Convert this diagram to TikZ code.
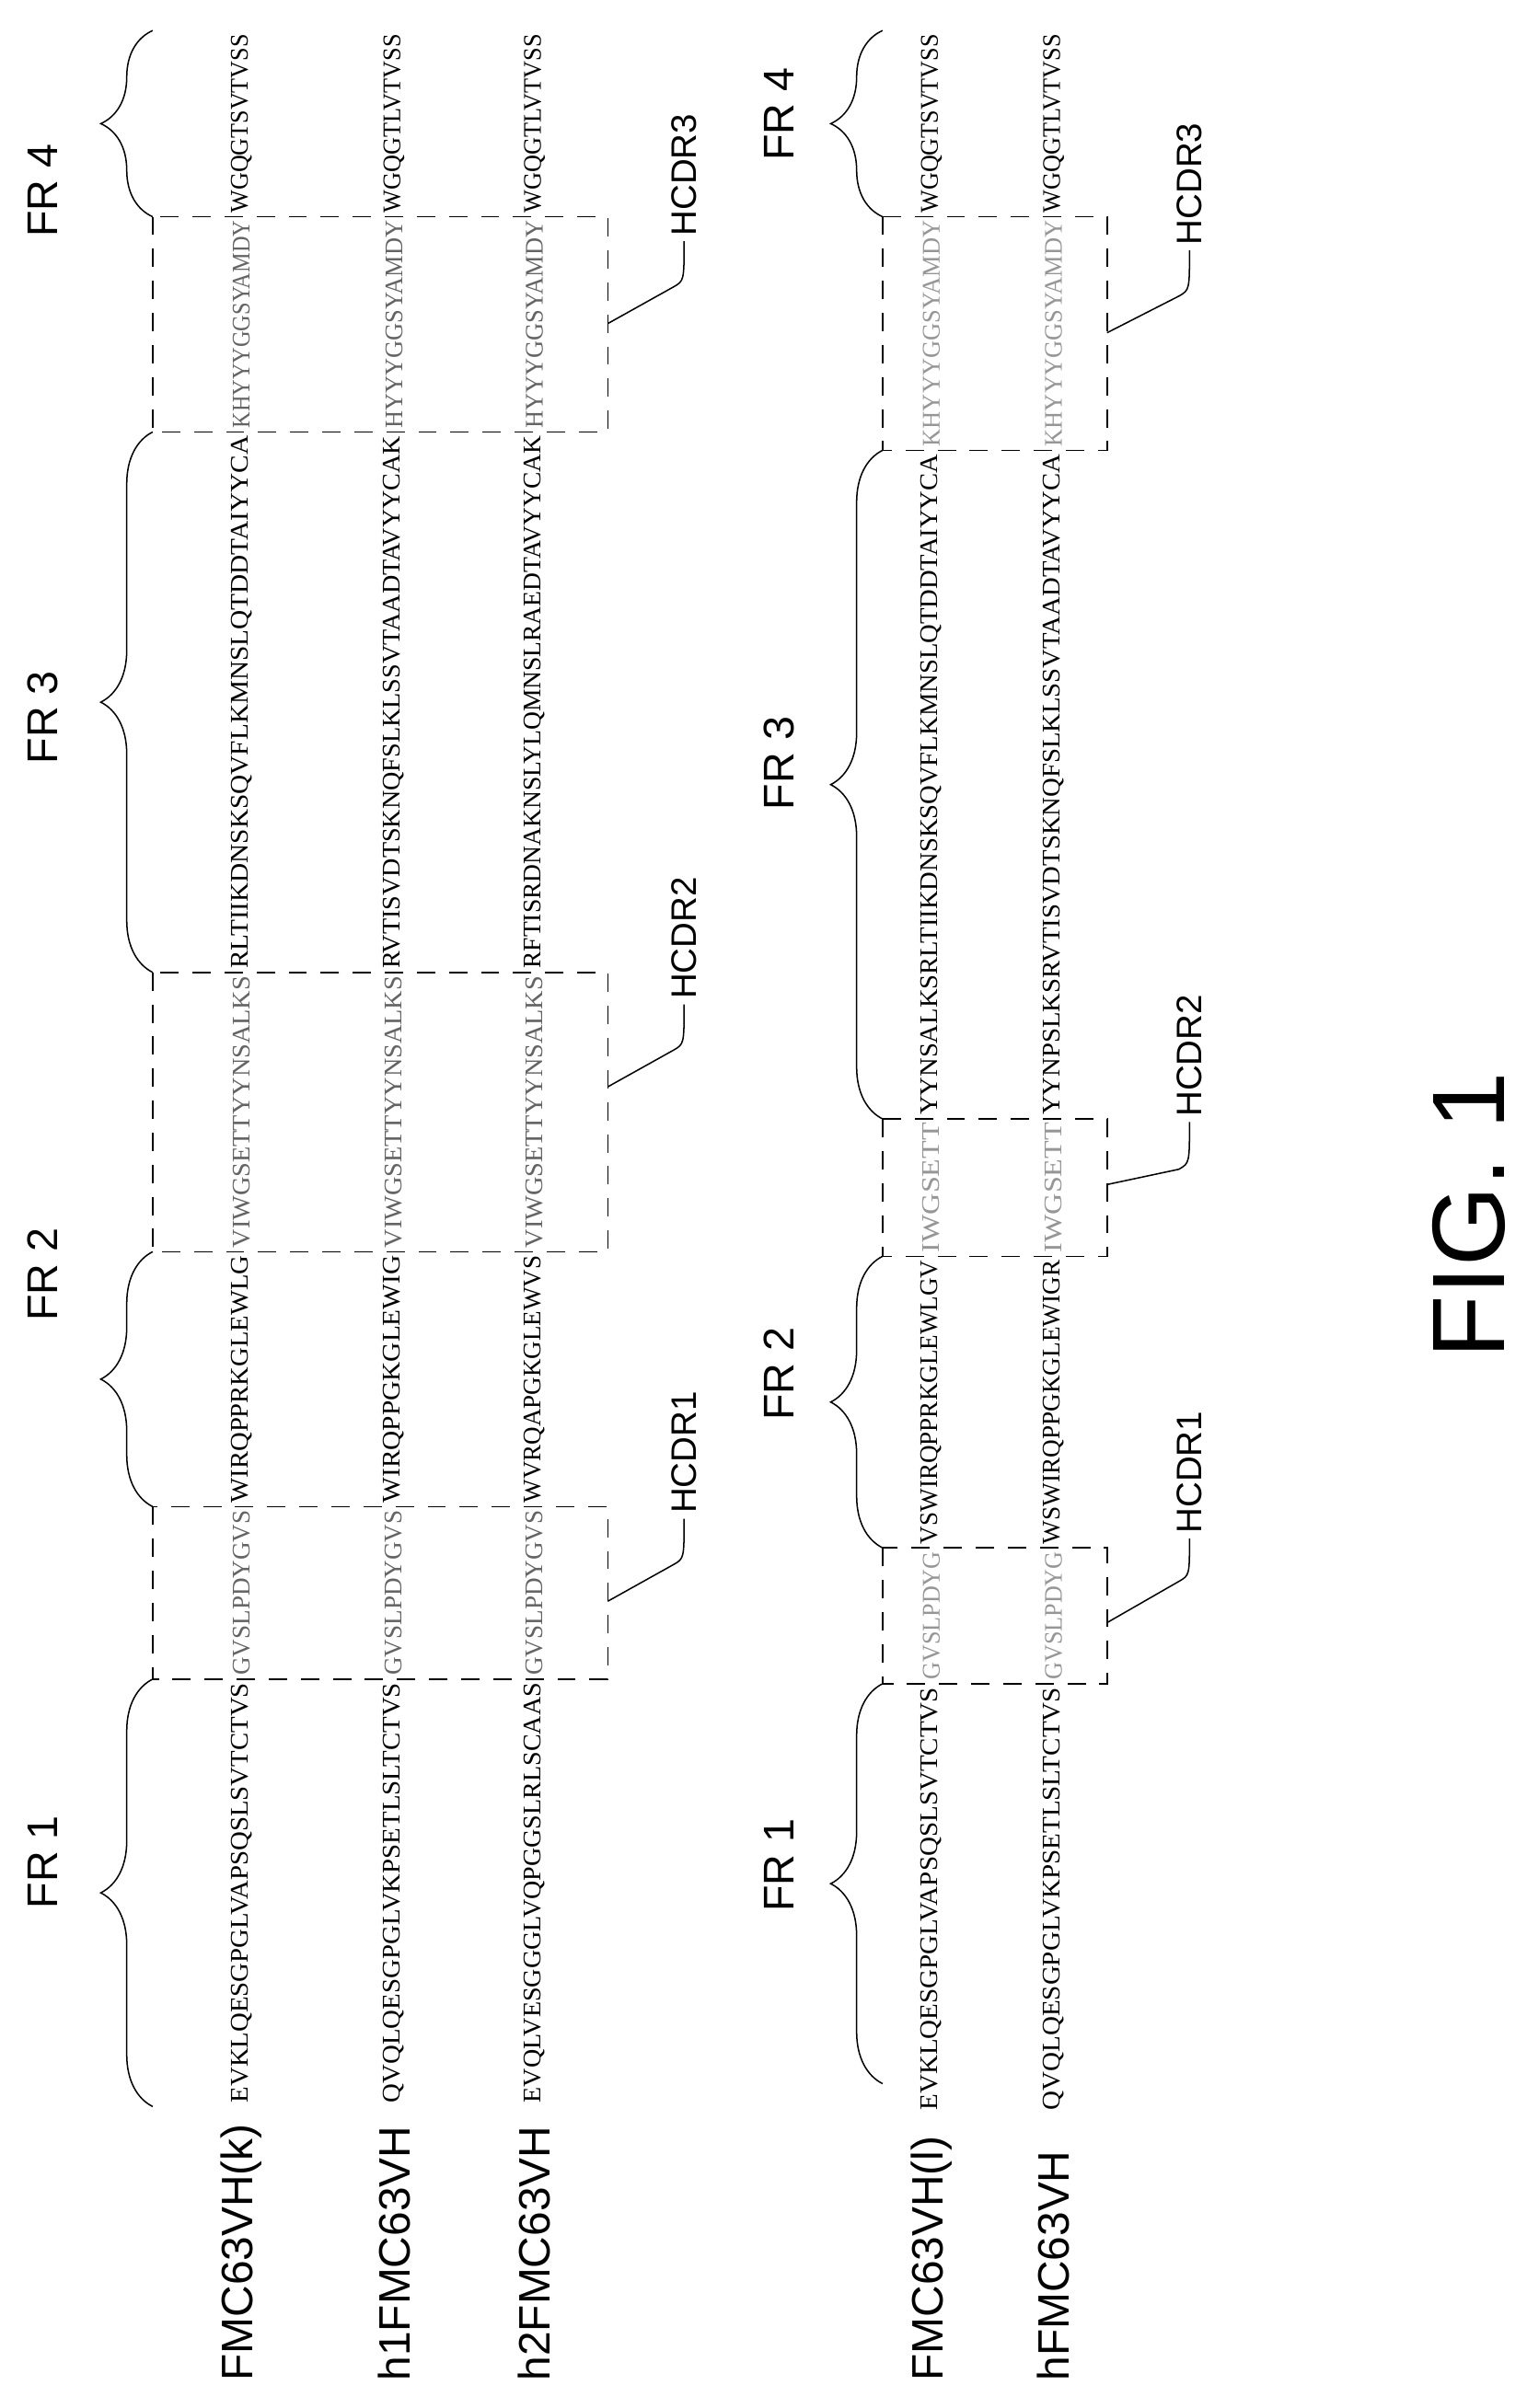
\documentclass[tikz,border=0pt]{standalone}
\usepackage{fontspec}
\setmainfont{Liberation Sans}
\newfontfamily\seqfont{Liberation Serif}
\usetikzlibrary{decorations.pathreplacing}
\definecolor{cdrtop}{RGB}{100,100,100}
\definecolor{cdrbot}{RGB}{150,150,150}

% one segment of a sequence, squeezed to fit between y1 (bottom) and y2 (top)
\newcommand\seg[6]{%
  \pgfmathsetmacro\segmid{(#3+#4)/2}\pgfmathsetmacro\seglen{(#3-#4-5)*0.5}%
  \node[seq,text=#5] (#1) at (#2,\segmid) {\resizebox{\seglen mm}{5.5mm}{#6}};}

\begin{document}
\begin{tikzpicture}[x=0.5mm,y=-0.5mm,line width=1.3pt,
  seq/.style={rotate=90,inner sep=0pt,font=\seqfont},
  rowlab/.style={rotate=90,anchor=west,inner sep=0pt,font=\fontsize{41}{44}\selectfont},
  frlab/.style={rotate=90,inner sep=0pt,font=\fontsize{40}{44}\selectfont},
  cdrlab/.style={rotate=90,anchor=west,inner sep=1.5mm,font=\fontsize{33}{36}\selectfont},
  frbrace/.style={decorate,decoration={brace,amplitude=17mm}},
  cdrbox/.style={dash pattern=on 6mm off 4.5mm},
  lead/.style={line width=1.3pt}]

  \useasboundingbox (0,0) rectangle (1000,1577.5);

  % row labels
  \node[rowlab] (lk) at (158,1560) {FMC63VH(k)};
  \node[rowlab] (lh1) at (258,1560) {h1FMC63VH};
  \node[rowlab] (lh2) at (350,1560) {h2FMC63VH};
  \node[rowlab] (ll) at (610,1560) {FMC63VH(l)};
  \node[rowlab] (lh) at (690,1560) {hFMC63VH};

  % upper alignment
  \seg{k1}{158}{1380}{1100}{black}{EVKLQESGPGLVAPSQSLSVTCTVS}
  \seg{k2}{158}{1100}{987}{cdrtop}{GVSLPDYGVS}
  \seg{k3}{158}{987}{820}{black}{WIRQPPRKGLEWLG}
  \seg{k4}{158}{820}{637}{cdrtop}{VIWGSETTYYNSALKS}
  \seg{k5}{158}{637}{283}{black}{RLTIIKDNSKSQVFLKMNSLQTDDTAIYYCA}
  \seg{k6}{158}{283}{142}{cdrtop}{KHYYYGGSYAMDY}
  \seg{k7}{158}{142}{20}{black}{WGQGTSVTVSS}

  \seg{ha1}{258}{1380}{1100}{black}{QVQLQESGPGLVKPSETLSLTCTVS}
  \seg{ha2}{258}{1100}{987}{cdrtop}{GVSLPDYGVS}
  \seg{ha3}{258}{987}{820}{black}{WIRQPPGKGLEWIG}
  \seg{ha4}{258}{820}{637}{cdrtop}{VIWGSETTYYNSALKS}
  \seg{ha5}{258}{637}{283}{black}{RVTISVDTSKNQFSLKLSSVTAADTAVYYCAK}
  \seg{ha6}{258}{283}{142}{cdrtop}{HYYYGGSYAMDY}
  \seg{ha7}{258}{142}{20}{black}{WGQGTLVTVSS}

  \seg{hb1}{350}{1380}{1100}{black}{EVQLVESGGGLVQPGGSLRLSCAAS}
  \seg{hb2}{350}{1100}{987}{cdrtop}{GVSLPDYGVS}
  \seg{hb3}{350}{987}{820}{black}{WVRQAPGKGLEWVS}
  \seg{hb4}{350}{820}{637}{cdrtop}{VIWGSETTYYNSALKS}
  \seg{hb5}{350}{637}{283}{black}{RFTISRDNAKNSLYLQMNSLRAEDTAVYYCAK}
  \seg{hb6}{350}{283}{142}{cdrtop}{HYYYGGSYAMDY}
  \seg{hb7}{350}{142}{20}{black}{WGQGTLVTVSS}

  % lower alignment
  \seg{l1}{610}{1385}{1103}{black}{EVKLQESGPGLVAPSQSLSVTCTVS}
  \seg{l2}{610}{1103}{1014}{cdrbot}{GVSLPDYG}
  \seg{l3}{610}{1014}{823}{black}{VSWIRQPPRKGLEWLGV}
  \seg{l4}{610}{823}{733}{cdrbot}{IWGSETT}
  \seg{l5}{610}{733}{295}{black}{YYNSALKSRLTIIKDNSKSQVFLKMNSLQTDDTAIYYCA}
  \seg{l6}{610}{295}{142}{cdrbot}{KHYYYGGSYAMDY}
  \seg{l7}{610}{142}{20}{black}{WGQGTSVTVSS}

  \seg{h1}{690}{1385}{1103}{black}{QVQLQESGPGLVKPSETLSLTCTVS}
  \seg{h2}{690}{1103}{1014}{cdrbot}{GVSLPDYG}
  \seg{h3}{690}{1014}{823}{black}{WSWIRQPPGKGLEWIGR}
  \seg{h4}{690}{823}{733}{cdrbot}{IWGSETT}
  \seg{h5}{690}{733}{295}{black}{YYNPSLKSRVTISVDTSKNQFSLKLSSVTAADTAVYYCA}
  \seg{h6}{690}{295}{142}{cdrbot}{KHYYYGGSYAMDY}
  \seg{h7}{690}{142}{20}{black}{WGQGTLVTVSS}

  % braces for the frameworks
  \draw[frbrace] (100,1380) -- (100,1100);
  \draw[frbrace] (100,987) -- (100,820);
  \draw[frbrace] (100,637) -- (100,283);
  \draw[frbrace] (100,142) -- (100,20);
  \draw[frbrace] (578,1365) -- (578,1103);
  \draw[frbrace] (578,1014) -- (578,823);
  \draw[frbrace] (578,733) -- (578,295);
  \draw[frbrace] (578,142) -- (578,20);

  \node[frlab] (fr1a) at (28,1220) {FR 1};
  \node[frlab] (fr2a) at (28,835) {FR 2};
  \node[frlab] (fr3a) at (28,470) {FR 3};
  \node[frlab] (fr4a) at (28,125) {FR 4};
  \node[frlab] (fr1b) at (510,1222) {FR 1};
  \node[frlab] (fr2b) at (510,900) {FR 2};
  \node[frlab] (fr3b) at (510,500) {FR 3};
  \node[frlab] (fr4b) at (510,75) {FR 4};

  % dashed boxes round the CDRs
  \draw[cdrbox] (100,987) rectangle (398,1100);
  \draw[cdrbox] (100,637) rectangle (398,820);
  \draw[cdrbox] (100,142) rectangle (398,283);
  \draw[cdrbox] (578,1014) rectangle (725,1103);
  \draw[cdrbox] (578,733) rectangle (725,823);
  \draw[cdrbox] (578,142) rectangle (725,295);

  \coordinate (ca1) at (398,1049);
  \coordinate (ca2) at (398,712);
  \coordinate (ca3) at (398,212);
  \coordinate (cb1) at (725,1063);
  \coordinate (cb2) at (725,776);
  \coordinate (cb3) at (725,218);

  \node[cdrlab] (hca1) at (448,995) {HCDR1};
  \node[cdrlab] (hca2) at (448,658) {HCDR2};
  \node[cdrlab] (hca3) at (448,158) {HCDR3};
  \node[cdrlab] (hcb1) at (779,1008) {HCDR1};
  \node[cdrlab] (hcb2) at (779,735) {HCDR2};
  \node[cdrlab] (hcb3) at (779,164) {HCDR3};

  % leader lines
  \draw[lead] (ca1) -- (441,1025) .. controls (448,1021) .. (hca1.west);
  \draw[lead] (ca2) -- (441,688) .. controls (448,684) .. (hca2.west);
  \draw[lead] (ca3) -- (441,188) .. controls (448,184) .. (hca3.west);
  \draw[lead] (cb1) -- (772,1036) .. controls (779,1032) .. (hcb1.west);
  \draw[lead] (cb2) -- (772,766) .. controls (779,762) .. (hcb2.west);
  \draw[lead] (cb3) -- (772,194) .. controls (779,190) .. (hcb3.west);

  \node[rotate=90,font=\fontsize{96}{100}\selectfont] (fig) at (962,796) {FIG. 1};
\end{tikzpicture}
\end{document}
